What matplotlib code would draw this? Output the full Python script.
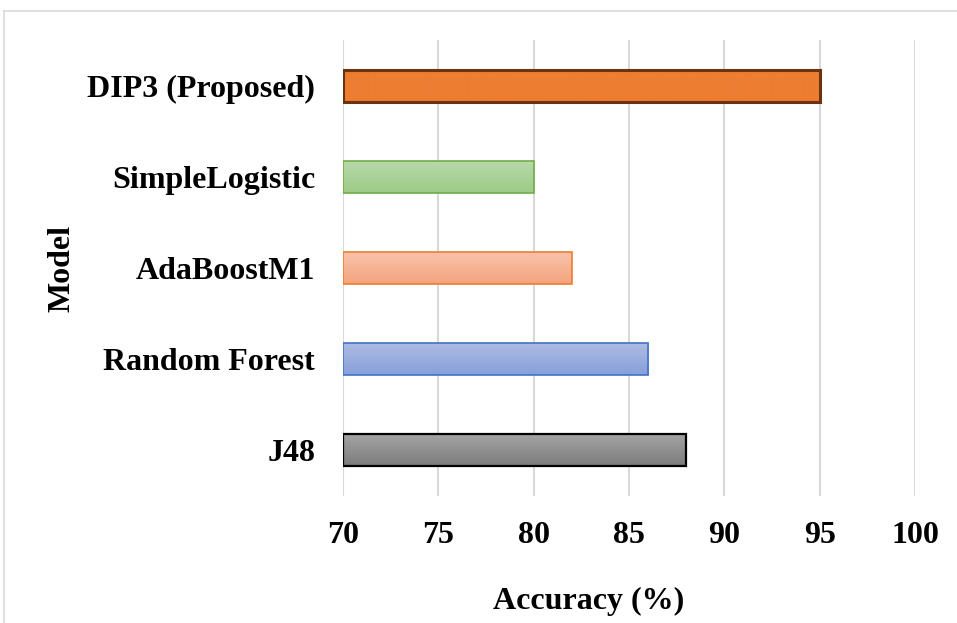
import matplotlib
matplotlib.use("Agg")
import matplotlib.pyplot as plt
import numpy as np
from matplotlib.colors import LinearSegmentedColormap
from matplotlib.lines import Line2D

models = ["J48", "Random Forest", "AdaBoostM1", "SimpleLogistic", "DIP3 (Proposed)"]
accuracy = [88, 86, 82, 80, 95]
xticks = [70, 75, 80, 85, 90, 95, 100]

# (top colour, bottom colour, edge colour, edge width)
styles = [
    ("#a3a3a3", "#7c7c7c", "#000000", 1.6),
    ("#adbbe2", "#87a0da", "#4472c4", 1.2),
    ("#f9c2aa", "#f4a47e", "#ed7d31", 1.2),
    ("#b8d8aa", "#9ccb87", "#70ad47", 1.2),
    ("#ed7d31", "#ed7d31", "#6a3412", 2.2),
]

plt.rcParams["font.family"] = ["Liberation Serif", "DejaVu Serif"]
plt.rcParams["font.weight"] = "bold"
FS = 23

fig = plt.figure(figsize=(9.57, 6.23), dpi=100)
ax = fig.add_axes([343 / 957, 1 - 496 / 623, (915 - 343) / 957, (496 - 40) / 623])

ypos = np.arange(len(models))
bars = ax.barh(ypos, [a - 70 for a in accuracy], left=70, height=0.35, zorder=3)
for bar, (top, bot, ec, lw) in zip(bars, styles):
    bar.set_facecolor("none")
    bar.set_edgecolor(ec)
    bar.set_linewidth(lw)
    x0, y0 = bar.get_x(), bar.get_y()
    w, h = bar.get_width(), bar.get_height()
    cmap = LinearSegmentedColormap.from_list("g", [bot, top])
    grad = np.linspace(0, 1, 64).reshape(-1, 1)
    im = ax.imshow(grad, cmap=cmap, aspect="auto", origin="lower",
                   extent=[x0, x0 + w, y0, y0 + h], zorder=2)
    im.set_clip_path(bar)
    bar.set_zorder(4)

ax.set_xlim(70, 100)
ax.set_ylim(-0.5, len(models) - 0.5)
ax.set_xticks(xticks)
ax.set_yticks(ypos)
ax.set_yticklabels(models, fontsize=FS, fontweight="bold")
ax.set_xticklabels([str(t) for t in xticks], fontsize=FS, fontweight="bold")
ax.tick_params(axis="both", length=0)
ax.tick_params(axis="y", pad=20)
ax.tick_params(axis="x", pad=18)
ax.grid(axis="x", color="#d9d9d9", linewidth=1.5, zorder=0)
for s in ax.spines.values():
    s.set_visible(False)

ax.set_xlabel("Accuracy (%)", fontsize=FS, fontweight="bold", labelpad=28)
ax.xaxis.set_label_coords((589 - 343) / 572, -(587 - 496) / 456, transform=ax.transAxes)
ax.xaxis.label.set_verticalalignment("top")
ax.set_ylabel("Model", fontsize=FS, fontweight="bold")
ax.yaxis.set_label_coords(-(343 - 76) / 572, 0.5)

# chart-area border
fig.add_artist(Line2D([4 / 957, 4 / 957], [0, 1 - 11 / 623], transform=fig.transFigure,
                      color="#d9d9d9", linewidth=1.2))
fig.add_artist(Line2D([4 / 957, 1], [1 - 11 / 623, 1 - 11 / 623], transform=fig.transFigure,
                      color="#d9d9d9", linewidth=1.2))

fig.savefig("out.png", dpi=100)
